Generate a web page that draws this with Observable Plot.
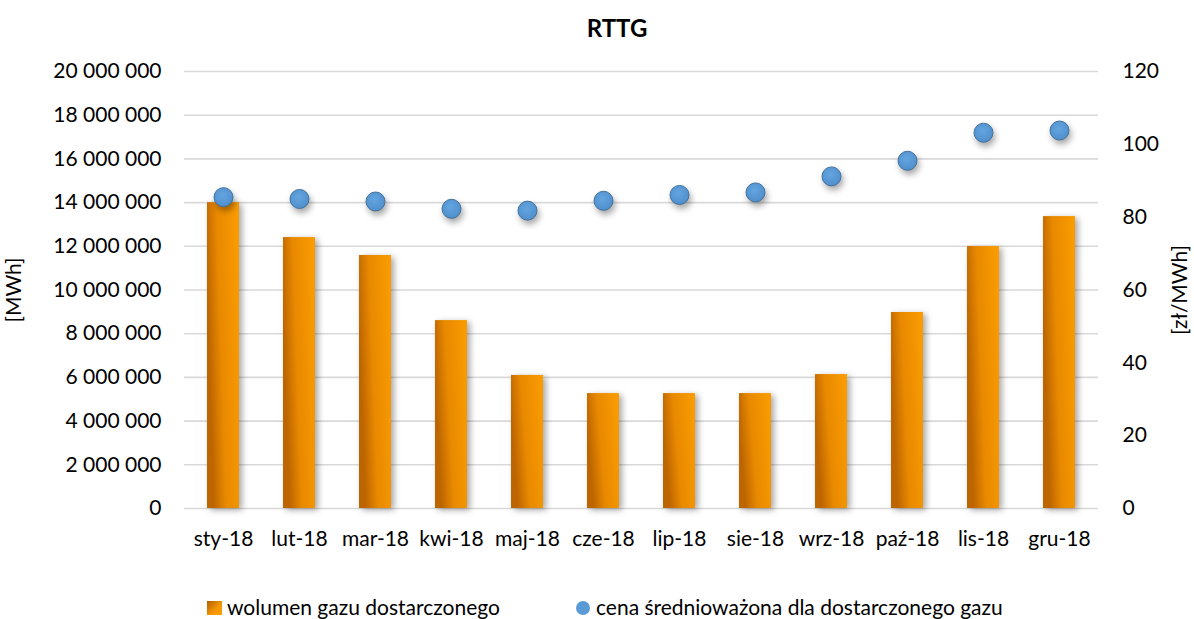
<!DOCTYPE html>
<html><head><meta charset="utf-8">
<script src="https://cdn.jsdelivr.net/npm/d3@7"></script>
<script src="https://cdn.jsdelivr.net/npm/@observablehq/plot@0.6"></script>
<style>
body{margin:0;background:#fff;font-family:Lato,"Open Sans",sans-serif;color:#000;}
#wrap{position:relative;width:1194px;height:619px;overflow:hidden;}
#title{position:absolute;top:13px;left:617px;transform:translateX(-50%);font-weight:bold;font-size:24px;}
#chart{position:absolute;top:50px;left:0;}
.leg{position:absolute;top:596px;font-size:21px;white-space:nowrap;line-height:22px;height:22px;}
.sw{display:inline-block;vertical-align:middle;}
</style></head>
<body><div id="wrap">
<div id="title">RTTG</div>
<div id="chart"></div>
<div class="leg" style="left:207px"><span class="sw" style="width:15px;height:14px;background:linear-gradient(135deg,#b05e00,#f59700 60%,#fb9d00);margin-right:5px;margin-top:-3px"></span>wolumen gazu dostarczonego</div>
<div class="leg" style="left:576px"><span class="sw" style="width:14px;height:14px;border-radius:50%;background:#5b9bd5;margin-right:6px;margin-top:-3px"></span>cena średnioważona dla dostarczonego gazu</div>
</div>
<script>
const months = ["sty-18","lut-18","mar-18","kwi-18","maj-18","cze-18","lip-18","sie-18","wrz-18","paź-18","lis-18","gru-18"];
const volume = [14000000, 12400000, 11580000, 8600000, 6090000, 5260000, 5260000, 5260000, 6130000, 8970000, 11990000, 13360000];
const price = [85.5, 85.0, 84.3, 82.3, 81.8, 84.5, 86.1, 86.8, 91.2, 95.5, 103.2, 103.8];
const leftTicks = [0,2e6,4e6,6e6,8e6,10e6,12e6,14e6,16e6,18e6,20e6];
const rightTicks = [0,20,40,60,80,100,120];

const k = 20e6/120; // right axis mapped onto left scale
const data = months.map((m,i)=>({m, v: volume[i], p: price[i]}));
const fmt = d3.formatLocale({thousands:" ", grouping:[3], decimal:","}).format(",");

const svg = Plot.plot({
  width: 1194, height: 520,
  marginLeft: 184, marginRight: 96, marginTop: 21, marginBottom: 62,
  style: {fontFamily: "Lato, 'Open Sans', sans-serif", fontSize: "21px", color: "#000", background: "transparent"},
  x: {domain: months, paddingInner: 0.58, paddingOuter: 0.29},
  y: {domain: [0, 20e6]},
  marks: [
    Plot.gridY(leftTicks, {stroke: "#d9d9d9", strokeOpacity: 1, strokeWidth: 1.6}),
    Plot.axisX({tickSize: 0, tickPadding: 23, label: null, fontSize: 21}),
    Plot.axisY(leftTicks, {anchor: "left", tickSize: 0, tickPadding: 23, tickFormat: fmt, label: "[MWh]", labelArrow: "none", labelAnchor: "center", labelOffset: 178, fontSize: 21}),
    Plot.axisY(rightTicks.map(t=>t*k), {anchor: "right", tickSize: 0, tickPadding: 24, tickFormat: d=>String(Math.round(d/k)), label: "[zł/MWh]", labelArrow: "none", labelAnchor: "center", labelOffset: 88, fontSize: 21}),
    Plot.barY(data, {x: "m", y: "v", fill: "url(#barGrad)"}),
    Plot.dot(data, {x: "m", y: d=>d.p*k, r: 9.5, fill: "url(#dotGrad)", stroke: "#41719c", strokeWidth: 1})
  ]
});

// strip any automatic arrows from axis labels
svg.querySelectorAll("text").forEach(t=>{
  if (t.textContent.includes("MWh]")) t.textContent = t.textContent.replace(/\s*[→←↑↓]\s*/g, "").trim();
});

const ns = "http://www.w3.org/2000/svg";
const defs = document.createElementNS(ns, "defs");
defs.innerHTML = `
<linearGradient id="barGrad" x1="0" y1="0.3" x2="1" y2="0">
  <stop offset="0" stop-color="#bd6500"/>
  <stop offset="0.35" stop-color="#e88900"/>
  <stop offset="1" stop-color="#fb9d00"/>
</linearGradient>
<radialGradient id="dotGrad" cx="0.45" cy="0.4" r="0.6">
  <stop offset="0" stop-color="#64a5e0"/>
  <stop offset="1" stop-color="#4f8fcc"/>
</radialGradient>`;
svg.insertBefore(defs, svg.firstChild);
svg.querySelectorAll('g[aria-label="bar"]').forEach(g=>g.style.filter="drop-shadow(3px 2px 3px rgba(0,0,0,0.35))");
svg.querySelectorAll('g[aria-label="dot"]').forEach(g=>g.style.filter="drop-shadow(2px 4px 3px rgba(0,0,0,0.35))");
document.getElementById("chart").appendChild(svg);
</script>
</body></html>
